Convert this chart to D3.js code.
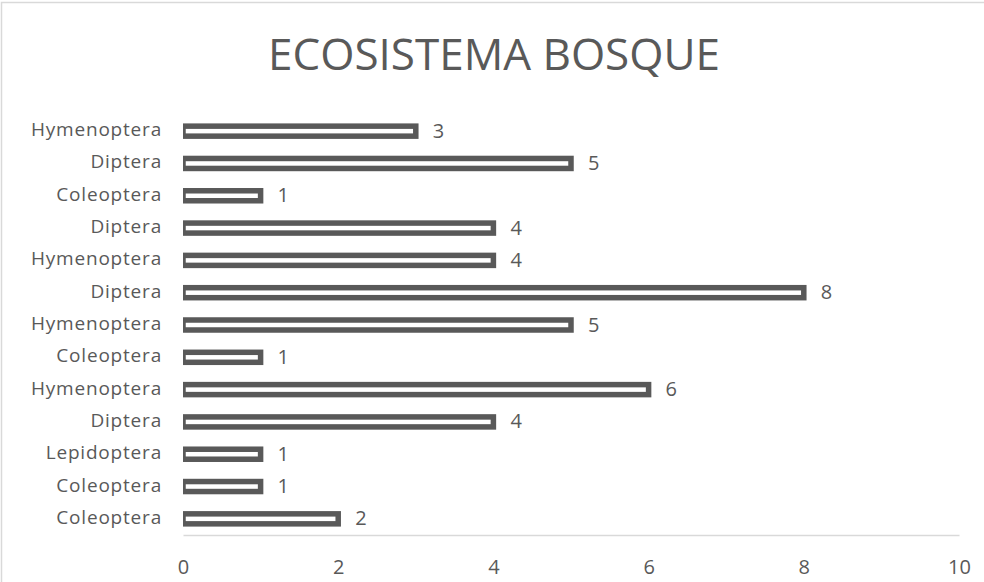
<!DOCTYPE html>
<html><head><meta charset="utf-8">
<script src="https://cdn.jsdelivr.net/npm/d3@7"></script>
<style>body{margin:0;background:#fff;} svg{display:block;font-family:"Open Sans",sans-serif;}</style>
</head><body><svg id="c" width="984" height="582"></svg>
<script>
const title = "ECOSISTEMA BOSQUE";
const categories = ["Hymenoptera","Diptera","Coleoptera","Diptera","Hymenoptera","Diptera","Hymenoptera","Coleoptera","Hymenoptera","Diptera","Lepidoptera","Coleoptera","Coleoptera"];
const values = [3,5,1,4,4,8,5,1,6,4,1,1,2];
const xTicks = [0,2,4,6,8,10];

const svg = d3.select("#c");
const W = 984, H = 582;
const m = {left:183, right:959, top:115, bottom:535};
const ink = "#595959";

svg.append("rect").attr("x",1.5).attr("y",2.5).attr("width",W+10).attr("height",H+10)
  .attr("fill","#fff").attr("stroke","#d9d9d9").attr("stroke-width",1.5);

svg.append("text").attr("x",494).attr("y",70).attr("text-anchor","middle")
  .attr("font-size",44).attr("fill",ink).text(title);

const x = d3.scaleLinear().domain([0,10]).range([m.left,m.right]);
const y = d3.scaleBand().domain(d3.range(categories.length)).range([m.top,m.bottom]);

svg.append("defs").append("clipPath").attr("id","clip").append("rect")
  .attr("x",m.left).attr("y",0).attr("width",m.right-m.left+20).attr("height",H);

// x axis
const xa = svg.append("g").attr("transform",`translate(0,${m.bottom})`)
  .call(d3.axisBottom(x).tickValues(xTicks).tickSize(0));
xa.select(".domain").attr("stroke","#d9d9d9").attr("stroke-width",1.5);
xa.selectAll("text").attr("font-size",20).attr("fill",ink).attr("font-family","Open Sans")
  .attr("y",39).attr("dy",0);

// y axis
const ya = svg.append("g").attr("transform",`translate(${m.left},0)`)
  .call(d3.axisLeft(y).tickSize(0).tickPadding(21).tickFormat(i=>categories[i]));
ya.select(".domain").remove();
ya.selectAll("text").attr("font-size",19).attr("letter-spacing",0.8).attr("fill",ink)
  .attr("font-family","Open Sans").attr("dy",5);

// bars
const bh = 10;
svg.append("g").attr("clip-path","url(#clip)").selectAll("rect").data(values).join("rect")
  .attr("x",x(0)).attr("width",d=>x(d)-x(0))
  .attr("y",(d,i)=>y(i)+y.bandwidth()/2-bh/2).attr("height",bh)
  .attr("fill","#fff").attr("stroke",ink).attr("stroke-width",5.5);

// labels
svg.append("g").selectAll("text").data(values).join("text")
  .attr("x",d=>x(d)+17).attr("y",(d,i)=>y(i)+y.bandwidth()/2)
  .attr("dy",6.5).attr("font-size",20).attr("fill",ink).text(d=>d);
</script></body></html>
